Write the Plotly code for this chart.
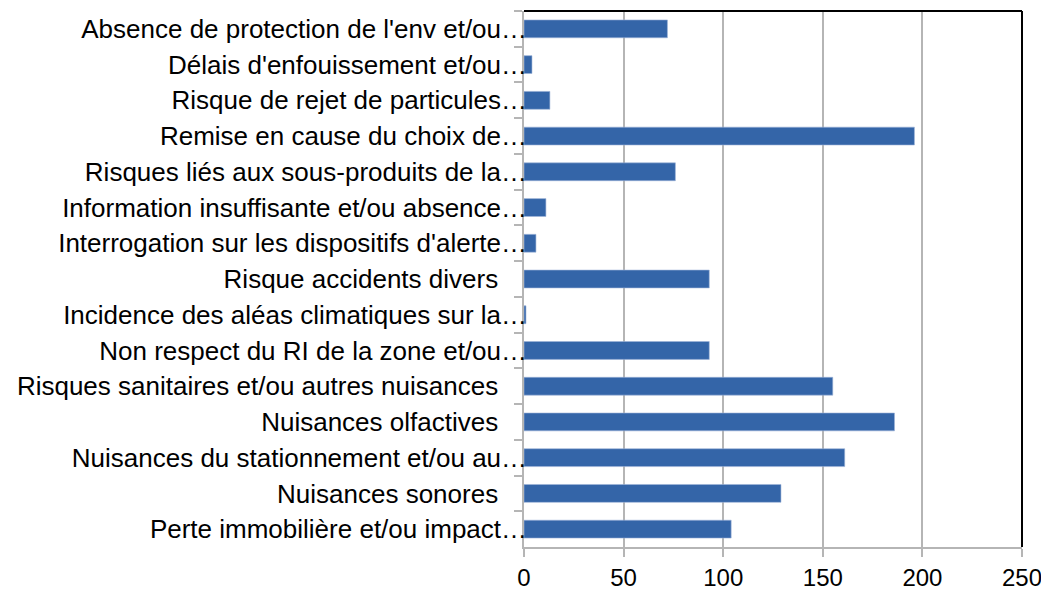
import plotly.graph_objects as go

NB = "\u00a0"
categories = [
    "Absence de protection de l'env et/ou…",
    "Délais d'enfouissement et/ou…",
    "Risque de rejet de particules…",
    "Remise en cause du choix de…",
    "Risques liés aux sous-produits de la…",
    "Information insuffisante et/ou absence…",
    "Interrogation sur les dispositifs d'alerte…",
    "Risque accidents divers" + NB * 4,
    "Incidence des aléas climatiques sur la…",
    "Non respect du RI de la zone et/ou…",
    "Risques sanitaires et/ou autres nuisances" + NB * 4,
    "Nuisances olfactives" + NB * 4,
    "Nuisances du stationnement et/ou au…",
    "Nuisances sonores" + NB * 4,
    "Perte immobilière et/ou impact…",
]
values = [72, 4, 13, 196, 76, 11, 6, 93, 1, 93, 155, 186, 161, 129, 104]
x_ticks = [0, 50, 100, 150, 200, 250]

fig = go.Figure(
    go.Bar(
        y=categories,
        x=values,
        orientation="h",
        marker=dict(color="#3465A8", line=dict(color="#9db4d9", width=0.6)),
        width=0.5,
    )
)

font = "Liberation Sans, Arial, sans-serif"
fig.update_layout(
    width=1041,
    height=582,
    margin=dict(l=516, r=27, t=3, b=43),
    paper_bgcolor="white",
    plot_bgcolor="white",
    showlegend=False,
    font=dict(family=font, size=24, color="black"),
    bargap=0.5,
)
fig.update_xaxes(
    range=[0, 250],
    tickvals=x_ticks,
    ticktext=[str(v) for v in x_ticks],
    showgrid=True,
    gridcolor="#b5b5b5",
    gridwidth=1.5,
    showline=True,
    linecolor="#b5b5b5",
    linewidth=1.5,
    ticks="outside",
    ticklen=8,
    tickcolor="#b5b5b5",
    tickwidth=1.5,
    tickfont=dict(size=24, family=font),
    zeroline=False,
    automargin=False,
)
fig.update_yaxes(
    autorange="reversed",
    showline=True,
    linecolor="#b5b5b5",
    linewidth=1.5,
    ticks="outside",
    ticklen=8,
    tickcolor="#b5b5b5",
    tickwidth=1.5,
    tickson="boundaries",
    tickfont=dict(size=26, family=font),
    ticklabelstandoff=-10,
    showgrid=False,
    automargin=False,
)
fig.add_shape(type="line", xref="paper", yref="paper", x0=0, x1=1, y0=1, y1=1,
              line=dict(color="black", width=2))
fig.add_shape(type="line", xref="paper", yref="paper", x0=1, x1=1, y0=0, y1=1,
              line=dict(color="black", width=2))

fig.write_html("out.html")
